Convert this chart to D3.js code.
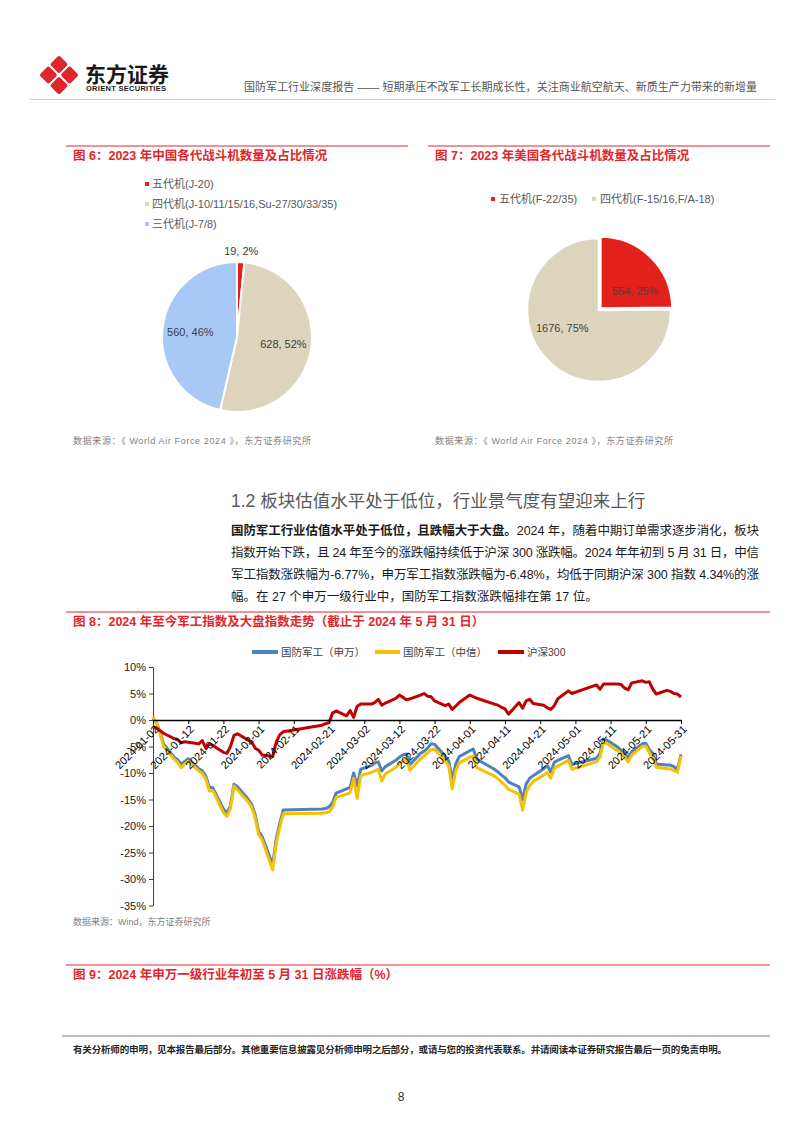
<!DOCTYPE html>
<html>
<head>
<meta charset="utf-8">
<script src="https://cdn.jsdelivr.net/npm/d3@7"></script>
<style>
  body { margin: 0; background: #fff; }
  svg { display: block; }
  text { font-family: "Liberation Sans", "Noto Sans CJK SC", sans-serif; }
</style>
</head>
<body>
<div id="page"></div>
<script>
/* DATA */
// fig 6: China
const cnGen = ["五代机(J-20)", "四代机(J-10/11/15/16,Su-27/30/33/35)", "三代机(J-7/8)"];
const cnCount = [19, 628, 560];
const cnPct = ["2%", "52%", "46%"];
// fig 7: US
const usGen = ["五代机(F-22/35)", "四代机(F-15/16,F/A-18)"];
const usCount = [554, 1676];
const usPct = ["25%", "75%"];

// fig 8: cumulative change since 2024-01-02 (%)
const tradeDays = [
  "01-02","01-03","01-04","01-05","01-08","01-09","01-10","01-11","01-12","01-15","01-16",
  "01-17","01-18","01-19","01-22","01-23","01-24","01-25","01-26","01-29","01-30","01-31",
  "02-01","02-02","02-05","02-06","02-07","02-08","02-19","02-20","02-21","02-22","02-23",
  "02-26","02-27","02-28","02-29",
  "03-01","03-04","03-05","03-06","03-07","03-08","03-11","03-12","03-13","03-14","03-15",
  "03-18","03-19","03-20","03-21","03-22","03-25","03-26","03-27","03-28","03-29",
  "04-01","04-02","04-03","04-08","04-09","04-10","04-11","04-12","04-15","04-16","04-17",
  "04-18","04-19","04-22","04-23","04-24","04-25","04-26","04-29","04-30",
  "05-06","05-07","05-08","05-09","05-10","05-13","05-14","05-15","05-16","05-17","05-20",
  "05-21","05-22","05-23","05-24","05-27","05-28","05-29","05-30","05-31"
];
const swDefense = [
  0.3, -0.5, -2.2, -4.5, -7.0, -7.5, -8.3, -7.8, -7.3, -9.2, -9.6,
  -10.6, -12.7, -12.8, -16.8, -17.6, -16.2, -12.1, -12.6, -14.9, -15.9, -17.8,
  -21.0, -22.0, -27.3, -22.5, -19.5, -17.0, -16.8, -16.7, -16.4, -15.6, -13.8,
  -13.0, -12.7, -10.0, -12.5,
  -9.3, -8.6, -8.1, -7.9, -9.6, -8.8, -7.6, -7.0, -6.6, -6.4, -8.4,
  -6.3, -5.9, -5.3, -4.5, -4.6, -6.8, -7.7, -11.2, -8.3, -6.9,
  -5.8, -5.5, -7.4, -9.3, -9.8, -10.4, -10.9, -11.7, -12.6, -15.0, -12.1,
  -11.0, -10.5, -9.2, -8.6, -9.8, -8.0, -7.6, -6.7, -8.4,
  -7.4, -7.2, -6.3, -3.6, -3.8, -5.1, -5.7, -6.2, -7.2, -6.0, -4.5,
  -4.4, -5.6, -6.3, -8.3, -8.5, -8.5, -8.8, -9.3, -6.48
];
const citicDefense = [
  0.6, -0.6, -2.6, -5.0, -7.4, -8.0, -9.0, -8.3, -7.8, -9.6, -10.1,
  -11.1, -13.4, -13.3, -17.4, -18.2, -16.7, -12.5, -13.2, -15.4, -16.4, -18.4,
  -21.6, -22.6, -28.3, -23.3, -20.3, -17.7, -17.6, -17.5, -17.3, -16.5, -14.6,
  -14.0, -13.7, -11.0, -14.8,
  -10.5, -9.9, -9.6, -9.3, -11.5, -10.2, -8.9, -8.3, -7.7, -7.4, -9.5,
  -7.3, -6.8, -6.2, -5.6, -5.5, -7.6, -8.7, -13.0, -9.6, -8.1,
  -7.0, -6.8, -9.0, -10.6, -11.1, -11.7, -12.3, -13.1, -14.0, -17.0, -13.7,
  -12.4, -11.6, -10.4, -9.9, -11.0, -9.1, -8.7, -7.6, -9.3,
  -8.1, -7.9, -7.0, -4.2, -4.5, -5.8, -6.4, -7.0, -7.9, -6.6, -5.0,
  -4.9, -6.2, -7.1, -8.9, -9.2, -9.2, -9.5, -9.9, -6.77
];
const csi300 = [
  -1.3, -1.5, -2.0, -2.5, -3.5, -3.7, -4.3, -4.1, -4.2, -4.5, -3.9,
  -5.3, -4.5, -4.8, -6.1, -6.3, -5.0, -2.9, -2.6, -3.8, -4.1, -5.3,
  -5.7, -6.6, -6.9, -4.2, -2.8, -2.2, -1.0, -0.7, -0.5, 1.3, 1.7,
  0.8, 1.8, 0.5, 2.6,
  3.0, 3.0, 3.3, 3.9, 2.8, 3.2, 4.1, 4.7, 4.3, 3.8, 4.0,
  4.7, 5.0, 4.5, 4.4, 3.6, 2.7, 3.0, 2.0, 2.6, 3.3,
  4.7, 4.4, 4.1, 3.0, 2.8, 2.4, 2.1, 1.1, 3.3, 2.2, 3.6,
  3.9, 3.1, 2.8, 2.3, 2.0, 2.7, 4.0, 5.5, 5.0,
  6.4, 6.6, 5.8, 6.8, 6.8, 6.8, 6.7, 6.0, 5.7, 7.0, 7.4,
  7.1, 7.2, 5.8, 4.9, 5.6, 5.4, 5.0, 4.9, 4.34
];
const seriesNames = ["国防军工（申万）", "国防军工（中信）", "沪深300"];
const yTicks = [10, 5, 0, -5, -10, -15, -20, -25, -30, -35];
const xTicks = ["01-02","01-12","01-22","02-01","02-11","02-21","03-02","03-12","03-22",
  "04-01","04-11","04-21","05-01","05-11","05-21","05-31"];

/* TEXTS */
const headerTitle = "国防军工行业深度报告 —— 短期承压不改军工长期成长性，关注商业航空航天、新质生产力带来的新增量";
const fig6Title = "图 6：2023 年中国各代战斗机数量及占比情况";
const fig7Title = "图 7：2023 年美国各代战斗机数量及占比情况";
const fig8Title = "图 8：2024 年至今军工指数及大盘指数走势（截止于 2024 年 5 月 31 日）";
const fig9Title = "图 9：2024 年申万一级行业年初至 5 月 31 日涨跌幅（%）";
const pieSource = "数据来源：《 World Air Force 2024 》，东方证券研究所";
const lineSource = "数据来源：Wind，东方证券研究所";
const heading = "1.2 板块估值水平处于低位，行业景气度有望迎来上行";
const bodyBold = "国防军工行业估值水平处于低位，且跌幅大于大盘。";
const bodyLines = [
  "2024 年，随着中期订单需求逐步消化，板块",
  "指数开始下跌，且 24 年至今的涨跌幅持续低于沪深 300 涨跌幅。2024 年年初到 5 月 31 日，中信",
  "军工指数涨跌幅为-6.77%，申万军工指数涨跌幅为-6.48%，均低于同期沪深 300 指数 4.34%的涨",
  "幅。在 27 个申万一级行业中，国防军工指数涨跌幅排在第 17 位。"
];
const footerText = "有关分析师的申明，见本报告最后部分。其他重要信息披露见分析师申明之后部分，或请与您的投资代表联系。并请阅读本证券研究报告最后一页的免责申明。";

/* PAGE */
const W = 802, H = 1133;
const RED = "#e0262a";
const svg = d3.select("#page").append("svg").attr("width", W).attr("height", H);

function spread(sel, width) {
  const w = sel.node().getComputedTextLength();
  const n = sel.text().length;
  if (n > 1) sel.attr("letter-spacing", (width - w) / (n - 1));
}

// header
const logo = svg.append("g").attr("transform", "translate(59,75) rotate(45)");
[[-7.5, -7.5], [7.5, -7.5], [-7.5, 7.5], [7.5, 7.5]].forEach(function(o) {
  logo.append("rect").attr("x", o[0] - 6.5).attr("y", o[1] - 6.5)
    .attr("width", 13).attr("height", 13).attr("rx", 2).attr("fill", "#e0262a");
});
svg.append("text").attr("x", 85).attr("y", 82).attr("font-size", 21).attr("font-weight", 700)
  .attr("fill", "#1a1a1a").text("东方证券");
const orient = svg.append("text").attr("x", 86).attr("y", 91).attr("font-size", 7.5)
  .attr("font-weight", 700).attr("fill", "#1a1a1a").text("ORIENT SECURITIES");
spread(orient, 80);
const ht = svg.append("text").attr("x", 244).attr("y", 91).attr("font-size", 11)
  .attr("fill", "#555").text(headerTitle);
spread(ht, 513);
svg.append("line").attr("x1", 30).attr("x2", 775).attr("y1", 99.5).attr("y2", 99.5)
  .attr("stroke", "#d0d0d0");

function figTitle(x1, x2, y, txt) {
  svg.append("line").attr("x1", x1).attr("x2", x2).attr("y1", y).attr("y2", y)
    .attr("stroke", RED).attr("stroke-width", 1);
  svg.append("text").attr("x", x1 + 7).attr("y", y + 14).attr("font-size", 12.5)
    .attr("font-weight", 700).attr("fill", RED).text(txt);
}
function source(x, y, txt, width) {
  const t = svg.append("text").attr("x", x).attr("y", y).attr("font-size", 9)
    .attr("fill", "#7f7f7f").text(txt);
  if (width) spread(t, width);
}

figTitle(66, 408, 146, fig6Title);
figTitle(428, 770, 146, fig7Title);

/* PIE: fig 6 */
const cnColors = ["#e3211c", "#ddd4bd", "#a8c9f6"];
const pie = d3.pie().sort(null).value(d => d);

const cnLegend = svg.append("g");
cnGen.forEach(function(g, i) {
  const y = 184 + i * 20;
  cnLegend.append("rect").attr("x", 145).attr("y", y - 2).attr("width", 4).attr("height", 4)
    .attr("fill", cnColors[i]);
  cnLegend.append("text").attr("x", 152).attr("y", y + 4).attr("font-size", 11)
    .attr("fill", "#595959").text(g);
});

const cnR = 75;
const cnG = svg.append("g").attr("transform", "translate(237,337)");
const cnArcs = pie(cnCount);
cnG.selectAll("path").data(cnArcs).join("path")
  .attr("d", d3.arc().innerRadius(0).outerRadius(cnR))
  .attr("fill", (d, i) => cnColors[i])
  .attr("stroke", "#fff").attr("stroke-width", 2);
const cnLabelR = [86, 47, 47];
cnG.selectAll("text").data(cnArcs).join("text")
  .attr("transform", function(d, i) {
    const c = d3.arc().innerRadius(cnLabelR[i]).outerRadius(cnLabelR[i]).centroid(d);
    return `translate(${c[0]},${c[1]})`;
  })
  .attr("text-anchor", "middle").attr("dy", "0.35em").attr("font-size", 11)
  .attr("fill", "#404040")
  .text((d, i) => `${cnCount[i]}, ${cnPct[i]}`);
source(73, 444, pieSource, 238);

/* PIE: fig 7 */
const usColors = ["#e3211c", "#ddd4bd"];
const usLegend = svg.append("g");
[[493, 499], [594, 600]].forEach(function(p, i) {
  usLegend.append("rect").attr("x", p[0] - 2).attr("y", 197).attr("width", 4).attr("height", 4)
    .attr("fill", usColors[i]);
  usLegend.append("text").attr("x", p[1]).attr("y", 203).attr("font-size", 11)
    .attr("fill", "#595959").text(usGen[i]);
});
const usR = 72;
const usG = svg.append("g").attr("transform", "translate(599,310)");
const usArcs = pie(usCount);
const usArc = d3.arc().innerRadius(0).outerRadius(usR);
usG.selectAll("path").data(usArcs).join("path")
  .attr("d", usArc)
  .attr("transform", function(d, i) {
    if (i !== 0) return null;
    const a = (d.startAngle + d.endAngle) / 2;
    return `translate(${Math.sin(a) * 2},${-Math.cos(a) * 2})`;
  })
  .attr("fill", (d, i) => usColors[i])
  .attr("stroke", "#fff").attr("stroke-width", 2.5);
const usLabelShift = [0.3, 0.33];
usG.selectAll("text").data(usArcs).join("text")
  .attr("transform", function(d, i) {
    const a = (d.startAngle + d.endAngle) / 2 + usLabelShift[i];
    return `translate(${Math.sin(a) * 41},${-Math.cos(a) * 41})`;
  })
  .attr("text-anchor", "middle").attr("dy", "0.35em").attr("font-size", 11)
  .attr("fill", (d, i) => i === 0 ? "#5a3a36" : "#404040")
  .text((d, i) => `${usCount[i]}, ${usPct[i]}`);
source(435, 444, pieSource, 238);

/* SECTION TEXT */
svg.append("text").attr("x", 231).attr("y", 507).attr("font-size", 17.5)
  .attr("fill", "#595959").text(heading);
bodyLines.forEach(function(line, i) {
  const t = svg.append("text").attr("x", 231).attr("y", 535 + i * 22)
    .attr("font-size", 12.5).attr("fill", "#1a1a1a");
  if (i === 0) t.append("tspan").attr("font-weight", 700).text(bodyBold);
  t.append("tspan").text(line);
  if (i < 3) spread(t, 528);
});

/* LINE CHART: fig 8 */
figTitle(66, 770, 612, fig8Title);

const parse = d3.timeParse("%Y-%m-%d");
const dates = tradeDays.map(d => parse("2024-" + d));
const xScale = d3.scaleTime()
  .domain([parse("2024-01-02"), parse("2024-05-31")])
  .range([153, 681]);
const yScale = d3.scaleLinear().domain([-35, 10]).range([905.5, 667]);

// y axis
const yAxis = svg.append("g").attr("transform", "translate(153,0)")
  .call(d3.axisLeft(yScale).tickValues(yTicks).tickFormat(d => d + "%").tickSize(4).tickSizeOuter(0));
yAxis.select(".domain").attr("stroke", "#404040");
yAxis.selectAll(".tick line").attr("stroke", "#404040");
yAxis.selectAll("text").attr("font-size", 11).attr("fill", "#1a1a1a")
  .attr("font-family", "Liberation Sans").attr("x", -7);

const lineGen = (vals) => d3.line()
  .x((d, i) => xScale(dates[i]))
  .y(d => yScale(d))(vals);

const seriesData = [swDefense, citicDefense, csi300];
const seriesColors = ["#4f81bd", "#f8c100", "#c00000"];
seriesData.forEach(function(vals, k) {
  svg.append("path")
    .attr("d", lineGen(vals))
    .attr("fill", "none")
    .attr("stroke", seriesColors[k])
    .attr("stroke-width", 3)
    .attr("stroke-linejoin", "round");
});

// x axis at 0%
const xAxis = svg.append("g").attr("transform", `translate(0,${yScale(0)})`)
  .call(d3.axisBottom(xScale)
    .tickValues(xTicks.map(d => parse("2024-" + d)))
    .tickFormat(d3.timeFormat("%Y-%m-%d"))
    .tickSize(4).tickSizeOuter(0));
xAxis.select(".domain").attr("stroke", "#000").attr("stroke-width", 1.3);
xAxis.selectAll(".tick line").attr("stroke", "#000");
xAxis.selectAll("text")
  .attr("font-size", 11).attr("fill", "#000").attr("font-family", "Liberation Sans")
  .attr("text-anchor", "end")
  .attr("dy", 0).attr("y", 0)
  .attr("transform", "translate(6,10) rotate(-45)");

// legend
const legend = svg.append("g");
[[252, 281], [375, 403], [498, 527]].forEach(function(p, k) {
  legend.append("line").attr("x1", p[0]).attr("x2", p[1] - 3).attr("y1", 652).attr("y2", 652)
    .attr("stroke", seriesColors[k]).attr("stroke-width", 4);
  legend.append("text").attr("x", p[1]).attr("y", 656).attr("font-size", 10.5)
    .attr("fill", "#404040").text(seriesNames[k]);
});

source(73, 925, lineSource);

/* fig 9 title */
figTitle(66, 770, 965, fig9Title);

/* FOOTER */
svg.append("line").attr("x1", 62).attr("x2", 770).attr("y1", 1036).attr("y2", 1036)
  .attr("stroke", "#a6a6a6").attr("stroke-width", 1.5);
const ft = svg.append("text").attr("x", 73).attr("y", 1053).attr("font-size", 9.5)
  .attr("font-weight", 700).attr("fill", "#262626").text(footerText);
spread(ft, 654);
svg.append("text").attr("x", 401).attr("y", 1101).attr("text-anchor", "middle")
  .attr("font-size", 12).attr("fill", "#333").text("8");
</script>
</body>
</html>
